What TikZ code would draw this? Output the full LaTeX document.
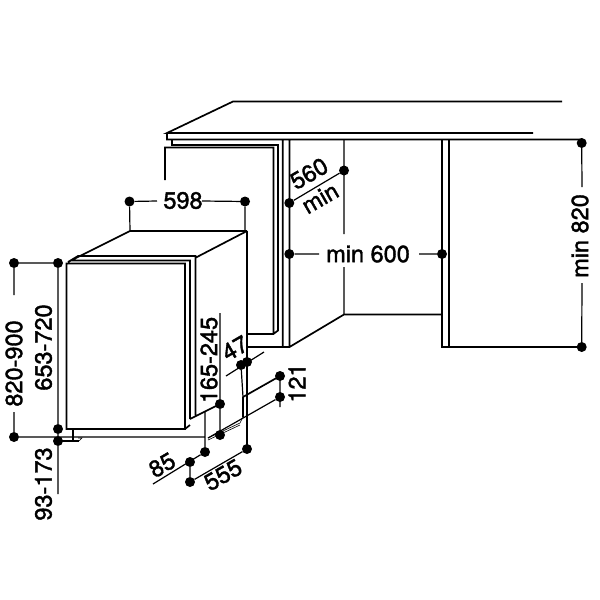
\documentclass[tikz,border=0pt]{standalone}
\usepackage{fontspec}
\newfontfamily\dimfont[FakeBold=1.6]{TeX Gyre Heros}
\tikzset{
    shape line/.style={line width=1.7pt, line join=miter},
    thin part/.style={line width=0.6pt},
    dim line/.style={line width=1.2pt},
    dim dot/.style={circle, fill=black, inner sep=0pt, minimum size=10pt},
    dim label/.style={inner sep=1pt, font=\dimfont\fontsize{23.5}{23.5}\selectfont},
}
\begin{document}
\begin{tikzpicture}[x=1pt, y=-1pt]
    \useasboundingbox (0,0) rectangle (600,600);
    % counter and recess
    \draw[shape line]
        (562,101.5) -- (233,101.5) -- (167,133) -- (533,133)
        (167,133) -- (167,139.5) -- (582,139.5)
        (172,140) -- (172,145) -- (278,145) -- (278,330.5) -- (274,333.5)
        (165,180) -- (165,147.5) -- (273.5,147.5) -- (273.5,334)
        (247,334) -- (274,334)
        (282.7,140) -- (282.7,347)
        (247,347) -- (289.5,347) -- (344,314.5) -- (442,314.5)
        (289.5,140) -- (289.5,347)
        (442,140) -- (442,347) -- (582,347)
        (449,140) -- (449,347);
    % dishwasher
    \draw[shape line]
        (130,231) -- (247,231)
        (130,231) -- (68,262)
        (247,231) -- (196,257.5)
        (68,262) -- (78,256) -- (195.5,256) -- (195.5,415)
        (70,260.5) -- (190,260.5) -- (190,419)
        (66.5,263.5) rectangle (185,429)
        (247,231) -- (247,449)
        (185,429) -- (190,425)
        (190,419) -- (220,404)
        (243,397) -- (280,376);
    \draw[dim line]
        (243,397) -- (243,417)
        (73,429) -- (73,440)
        (58,441) -- (79,441);
    \draw[thin part]
        (79,441) -- (82,438) -- (78,438)
        (208,438) -- (240,423)
        (208,440) -- (240,425)
        (240,423) -- (243,417);
    % end points of the dimensions
    \foreach \dotname/\dotx/\doty in {
        wa/129.5/201.5, wb/245/201.5,
        ha/14/263, hb/14/437, ia/58/263, ib/58/429, fa/58/441,
        pa/220/404, pb/220/435,
        ka/241/365, kb/247/362,
        ra/280/376, rb/280/397,
        da/247/449, db/190/482, ea/190/462, eb/205/452,
        sa/289.3/203, sb/344/170.5,
        ma/289.3/254, mb/442/254,
        ta/581.7/143, tb/581.7/347}
        {\node[dim dot] (\dotname) at (\dotx,\doty) {};}
    % labels
    \node[dim label] (wlabel) at (183,200.5) {598};
    \node[dim label, rotate=90] (hlabel) at (14,363.5) {820-900};
    \node[dim label, rotate=90] (ilabel) at (43.5,347.5) {653-720};
    \node[dim label, rotate=90] (flabel) at (43.5,484) {93-173};
    \node[dim label, rotate=90] (plabel) at (209,360) {165-245};
    \node[dim label, rotate=30] (klabel) at (235,348) {47};
    \node[dim label, rotate=90] (rlabel) at (297,383) {121};
    \node[dim label, rotate=30] (elabel) at (162,465) {85};
    \node[dim label, rotate=30] (dlabel) at (223,475) {555};
    \node[dim label, rotate=30] (slabel) at (309,173.5) {560};
    \node[dim label, rotate=30] (sminlabel) at (320,198) {min};
    \node[dim label] (mlabel) at (368,254) {min 600};
    \node[dim label, rotate=90] (tlabel) at (580,236) {min 820};
    % free ends of the dimension lines
    \coordinate (wab) at (130,231);
    \coordinate (wbb) at (245,231);
    \coordinate (wgap) at (157,201);
    \coordinate (wgapb) at (202,201);
    \coordinate (hgap) at (14,295);
    \coordinate (hgapb) at (14,412);
    \coordinate (fend) at (58,494);
    \coordinate (ptop) at (220,313);
    \coordinate (pfoot) at (205,412);
    \coordinate (kl) at (226,376);
    \coordinate (kr) at (264,352);
    \coordinate (efoot) at (153,484);
    \coordinate (rtop) at (280,372);
    \coordinate (rbot) at (280,407);
    \coordinate (rleft) at (208,438);
    \coordinate (bottomend) at (205,437);
    \coordinate (ktail) at (243,397);
    \coordinate (sleft) at (344,140);
    \coordinate (sgap) at (344,234);
    \coordinate (sgapb) at (344,267);
    \coordinate (scorner) at (344,314);
    \coordinate (mgap) at (319,254);
    \coordinate (mgapb) at (419,254);
    \coordinate (tgap) at (582,187);
    \coordinate (tgapb) at (582,283);
    \draw[dim line]
        (wa) -- (wgap) (wgapb) -- (wb)
        (wa) -- (wab) (wb) -- (wbb)
        (ha) -- (ia) (hb) -- (bottomend)
        (ha) -- (hgap) (hgapb) -- (hb)
        (ia) -- (ib) (ib) -- (fa) (fa) -- (fend)
        (ptop) -- (pa) (pa) -- (pb)
        (pfoot) -- (eb)
        (kl) -- (kr)
        (ka) -- (ktail)
        (rtop) -- (rbot) (rb) -- (rleft)
        (da) -- (db) (ea) -- (db)
        (efoot) -- (eb)
        (sa) -- (sb)
        (sleft) -- (sgap) (sgapb) -- (scorner)
        (ma) -- (mgap) (mgapb) -- (mb)
        (ta) -- (tgap) (tgapb) -- (tb);
\end{tikzpicture}
\end{document}
